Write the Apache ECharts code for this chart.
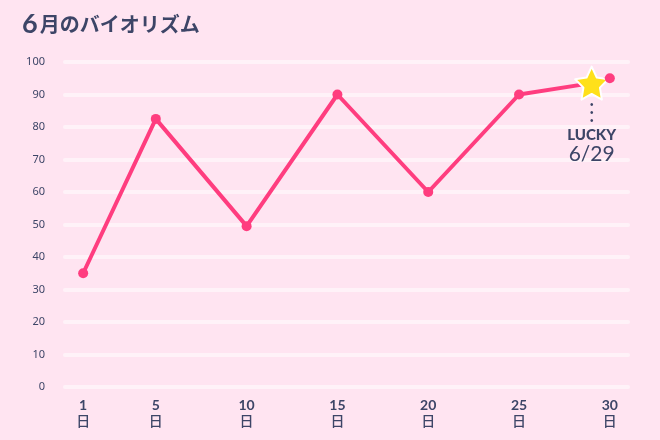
<!DOCTYPE html>
<html>
<head>
<meta charset="utf-8">
<script src="https://cdn.jsdelivr.net/npm/echarts@6/dist/echarts.min.js"></script>
<style>
  html, body { margin: 0; padding: 0; background: #ffe4f1; }
  #main { width: 660px; height: 440px; }
</style>
</head>
<body>
<div id="main"></div>
<script>
// 6月のバイオリズム
var days = [1, 5, 10, 15, 20, 25, 29, 30];
var scores = [35, 82.5, 49.5, 90, 60, 90, 93.5, 95];
var dayTicks = [1, 5, 10, 15, 20, 25, 30];
var luckyDay = 29;

var textColor = '#3d4567';
var pink = '#ff3d7f';

var starPath = 'path://M50,2 L64.7,31.8 L97.6,36.5 L73.8,59.7 L79.4,92.5 L50,77 L20.6,92.5 L26.2,59.7 L2.4,36.5 L35.3,31.8 Z';

var seriesData = days.map(function (d, i) {
    var item = { value: [d, scores[i]] };
    if (d === luckyDay) {
        item.symbol = starPath;
        item.symbolSize = 33;
        item.z = 10;
        item.itemStyle = { color: '#ffe01a', borderColor: '#ffffff', borderWidth: 2, borderJoin: 'round' };
        item.label = {
            show: true,
            position: 'bottom',
            distance: 1,
            align: 'center',
            formatter: '{d|•}\n{d|•}\n{d|•}\n{a|LUCKY}\n{b|6/' + luckyDay + '}',
            rich: {
                d: { fontSize: 10, lineHeight: 8, color: textColor, align: 'center' },
                a: { fontSize: 15, fontWeight: 900, lineHeight: 16, color: textColor,
                     fontFamily: 'Lato', padding: [4, 0, 0, 0], align: 'center' },
                b: { fontSize: 21, lineHeight: 26, color: textColor,
                     fontFamily: 'Lato', align: 'center' }
            }
        };
    }
    return item;
});

var myChart = echarts.init(document.getElementById('main'));
var option = {
    backgroundColor: '#ffe4f1',
    animation: false,
    title: {
        text: '{n|6}{t|月のバイオリズム}',
        left: 17,
        top: 6,
        textStyle: {
            rich: {
                n: { fontSize: 27, fontWeight: 'bold', color: textColor, fontFamily: 'Lato', padding: [0, 2, 0, 0] },
                t: { fontSize: 20, fontWeight: 'bold', color: textColor, fontFamily: 'Noto Sans CJK JP' }
            }
        }
    },
    grid: { left: 65, right: 32, top: 62, bottom: 53 },
    xAxis: {
        type: 'value',
        min: 0,
        max: 31,
        axisLine: { show: false },
        axisTick: { show: false },
        splitLine: { show: false },
        axisLabel: {
            customValues: dayTicks,
            margin: 10,
            formatter: function (v) { return '{n|' + v + '}\n{u|日}'; },
            rich: {
                n: { fontSize: 14, fontWeight: 'bold', color: textColor, fontFamily: 'Lato', lineHeight: 16, align: 'center' },
                u: { fontSize: 14, fontWeight: 500, color: textColor, fontFamily: 'Noto Sans CJK JP', lineHeight: 16, align: 'center' }
            }
        }
    },
    yAxis: {
        type: 'value',
        min: 0,
        max: 100,
        interval: 10,
        axisLine: { show: false },
        axisTick: { show: false },
        axisLabel: {
            color: textColor,
            fontSize: 11,
            fontFamily: 'Noto Sans',
            margin: 20,
            padding: [0, 0, 5, 0]
        },
        splitLine: {
            lineStyle: { color: '#fff2f8', width: 4, cap: 'round' }
        }
    },
    series: [
        {
            type: 'line',
            data: seriesData,
            symbol: 'circle',
            symbolSize: 10,
            lineStyle: { color: pink, width: 4 },
            itemStyle: { color: pink }
        }
    ]
};
myChart.setOption(option);
</script>
</body>
</html>
